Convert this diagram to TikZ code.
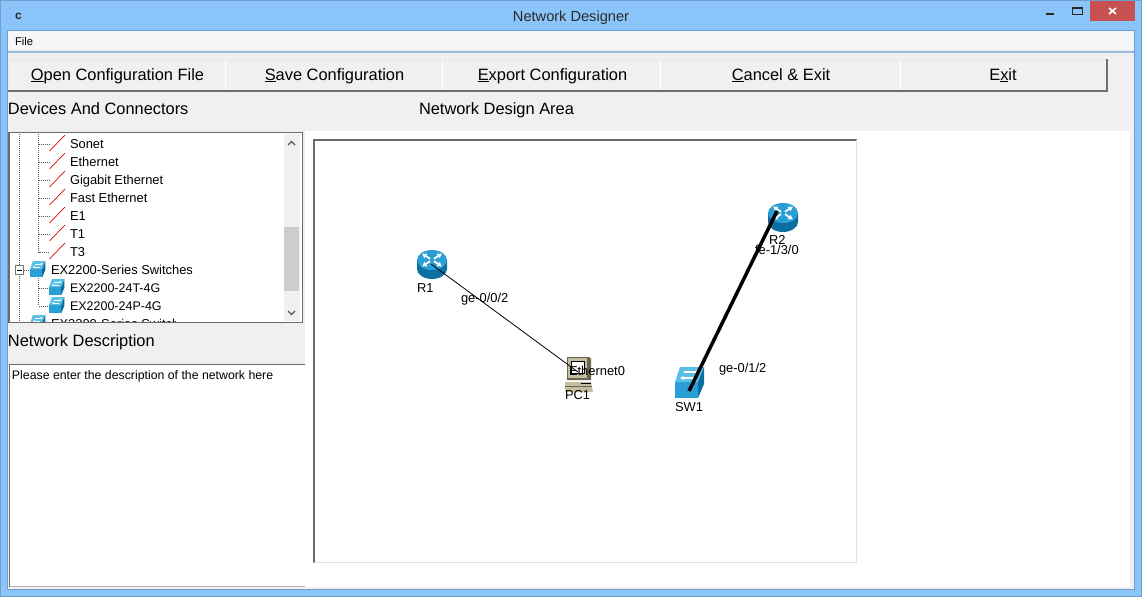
\documentclass[tikz,border=0pt]{standalone}
\usepackage{fontspec}
\usetikzlibrary{arrows.meta}
\setmainfont{Liberation Sans}
\definecolor{frameblue}{HTML}{8AC4F8}
\definecolor{frameedge}{HTML}{6F9FCF}
\definecolor{panel}{HTML}{F0F0F0}
\definecolor{menubg}{HTML}{F5F6F7}
\definecolor{btnshade}{HTML}{6E6E6E}
\definecolor{closered}{HTML}{C75050}
\definecolor{iconblue}{HTML}{2A9FD6}
\definecolor{icondark}{HTML}{0C6F9F}
\definecolor{iconlight}{HTML}{58BFE6}
\definecolor{sbar}{HTML}{CDCDCD}
\definecolor{titletext}{HTML}{2A2A2A}
\definecolor{pcbody}{HTML}{C4BD9F}
\definecolor{pcdark}{HTML}{6B6650}
\tikzset{
  txt/.style={inner sep=0pt,outer sep=0pt,anchor=base west,font=\fontsize{#1}{#1}\selectfont,text=black},
  btnlabel/.style={inner sep=0pt,outer sep=0pt,anchor=base,font=\fontsize{16.4}{16.4}\selectfont,text=black},
  treelabel/.style={txt=12.9},
  treesmall/.style={txt=12.5},
  dia/.style={txt=12.9},
  treedot/.style={draw=black!65,line width=.8pt,dash pattern=on 1pt off 1pt},
  redlink/.style={draw=red!90!black,line width=.7pt},
  lnk/.style={draw=black,line width=.8pt},
  thicklnk/.style={draw=black,line width=3.5pt},
  arr/.style={white,line width=1.8pt,-{Latex[length=4.5pt,width=6pt]}}
}
\newcommand{\routericon}[2]{%
  \begin{scope}[shift={(#1,#2)}]
    \fill[icondark] (-15,0) -- (-15,9) arc[start angle=180,end angle=0,x radius=15,y radius=10] -- (15,0) -- cycle;
    \fill[iconblue] (0,0) ellipse[x radius=15,y radius=10];
    \draw[arr] (-2,-1.2) -- (-10,-6.5);
    \draw[arr] (2,-1.2) -- (10,-6.5);
    \draw[arr] (-2,1.2) -- (-10,6.5);
    \draw[arr] (2,1.2) -- (10,6.5);
  \end{scope}}
\newcommand{\switchicon}[3]{%
  \begin{scope}[shift={(#1,#2)},scale=#3]
    \fill[iconblue] (-15,0) -- (8,0) -- (8,16) -- (-15,16) -- cycle;
    \fill[iconlight] (-15,0) -- (-10,-15) -- (14,-15) -- (8,0) -- cycle;
    \fill[icondark] (8,0) -- (14,-15) -- (14,2) -- (8,16) -- cycle;
    \draw[white,line width=#3*1.1pt,-{Latex[length=#3*3.5pt,width=#3*4.5pt]}] (4,-4) -- (-10,-4);
    \draw[white,line width=#3*1.1pt,-{Latex[length=#3*3.5pt,width=#3*4.5pt]}] (-6,-10) -- (9,-10);
  \end{scope}}
\begin{document}
\begin{tikzpicture}[x=1pt,y=-1pt]
\useasboundingbox (0,0) rectangle (1142,597);
% window frame
\fill[frameblue] (0,0) rectangle (1142,597);
\draw[frameedge,line width=1pt] (.5,.5) rectangle (1141.5,596.5);
\fill[panel] (8,31) rectangle (1134,589);
\draw[frameedge,line width=1pt] (7.5,30.5) rectangle (1134.5,589.5);
% title bar
\node[txt=12,font=\fontsize{12}{12}\selectfont\bfseries,text=titletext] (ctitle) at (15,19) {c};
\node[inner sep=0pt,anchor=base,font=\fontsize{14.6}{14.6}\selectfont,text=titletext] (wintitle) at (571,21) {Network Designer};
\fill[closered] (1090,1) rectangle (1135,21);
\draw[white,line width=1.6pt] (1109,8) -- (1116,14) (1116,8) -- (1109,14);
\draw[black!85,line width=2pt] (1046,14) -- (1054,14);
\draw[black!85,line width=1pt] (1072.5,7.5) rectangle (1082.5,14.5);
\draw[black!85,line width=2pt] (1072,8) -- (1083,8);
% menu
\fill[menubg] (8,31) rectangle (1134,50);
\fill[black!8] (8,50) rectangle (1134,51);
\fill[frameedge!70] (8,51) rectangle (1134,53);
\node[txt=11.2] (filemenu) at (15,45) {File};
% buttons
\fill[white!92!black] (8,59) rectangle (1108,92);
\fill[panel] (9,61) rectangle (1106,90);
\fill[btnshade] (8,90) rectangle (1108,92);
\fill[btnshade] (1106,59) rectangle (1108,92);
\foreach \x in {225.5,442.5,660.5,900.5} \draw[white,line width=1pt] (\x,60) -- (\x,90);
\node[btnlabel] (b1) at (117.5,80) {\underline{O}pen Configuration File};
\node[btnlabel] (b2) at (334.5,80) {\underline{S}ave Configuration};
\node[btnlabel] (b3) at (552.5,80) {\underline{E}xport Configuration};
\node[btnlabel] (b4) at (781,80) {\underline{C}ancel \& Exit};
\node[btnlabel] (b5) at (1003,80) {E\underline{x}it};
% headings
\node[txt=16.4] (h1) at (8,114) {Devices And Connectors};
\node[txt=16.4] (h2) at (419,114) {Network Design Area};
\node[txt=16.4] (h3) at (8,346) {Network Description};
% design area
\fill[white] (305,131) rectangle (1130,587);
\fill[white] (314,140) rectangle (857,563);
\draw[black!58,line width=1.6pt] (314,563) -- (314,140) -- (857,140);
\draw[black!12,line width=1pt] (314,562.5) -- (856.5,562.5) -- (856.5,140);
% tree box
\fill[white] (9,132) rectangle (303,323);
\begin{scope}
\clip (11,134) rectangle (301,321);
\draw[treedot] (19.5,134) -- (19.5,321);
\draw[treedot] (38.5,134) -- (38.5,252.5) -- (49,252.5);
\foreach \y in {144,162,180,198,216,234} \draw[treedot] (38.5,\y) -- (49,\y);
\foreach \y in {151,169,187,205,223,241,259} \draw[redlink] (49.5,\y) -- (65,\y-16);
\draw[treedot] (24,270) -- (30,270);
\draw[treedot] (38.5,278) -- (38.5,306) -- (49,306) (38.5,288) -- (49,288);
\node[treelabel] (t1) at (70,148) {Sonet};
\node[treelabel] (t2) at (70,166) {Ethernet};
\node[treelabel] (t3) at (70,184) {Gigabit Ethernet};
\node[treelabel] (t4) at (70,202) {Fast Ethernet};
\node[treelabel] (t5) at (70,220) {E1};
\node[treelabel] (t6) at (70,238) {T1};
\node[treelabel] (t7) at (70,256) {T3};
\node[treelabel] (t8) at (51,274) {EX2200-Series Switches};
\node[treesmall] (t9) at (70,292) {EX2200-24T-4G};
\node[treesmall] (t10) at (70,310) {EX2200-24P-4G};
\begin{scope}
\clip (11,300) rectangle (175,321);
\node[treelabel] (t11) at (51,328) {EX3200-Series Switches};
\end{scope}
\switchicon{38}{269}{.52}
\switchicon{57}{287}{.52}
\switchicon{57}{305}{.52}
\switchicon{38}{323}{.52}
\fill[white] (15,265) rectangle (24,275);
\draw[black!55,line width=.7pt] (15.5,265.5) rectangle (23.5,274.5);
\draw[black,line width=.7pt] (17,270) -- (22,270);
\end{scope}
\fill[panel] (284,134) rectangle (300,321);
\fill[sbar] (284,227) rectangle (299,291);
\draw[black!65,line width=1.1pt] (288,145) -- (291.5,141.5) -- (295,145);
\draw[black!65,line width=1.1pt] (288,311) -- (291.5,314.5) -- (295,311);
\draw[black!58,line width=1.4pt] (9,132.5) rectangle (302.5,322.5);
% description box
\fill[white] (9,364) rectangle (305,587);
\draw[black!58,line width=1.4pt] (9.5,587) -- (9.5,364.5) -- (305,364.5);
\draw[black!30,line width=1pt] (9.5,586.5) -- (305,586.5);
\node[txt=12.3] (desc) at (12,379) {Please enter the description of the network here};
% devices
\routericon{432}{260}
\routericon{783}{213}
\begin{scope}[shift={(579,375)}]
  \fill[pcdark] (-12,-18) -- (10,-18) -- (12,-16) -- (12,5) -- (-12,5) -- cycle;
  \fill[pcbody] (-11,-17) rectangle (8,3);
  \fill[white] (-8,-14) rectangle (5,-2);
  \draw[black,line width=.8pt] (-8,-14) rectangle (5,-2);
  \fill[pcbody] (-14,7) -- (12,7) -- (14,17) -- (-14,17) -- cycle;
  \draw[pcdark,line width=1pt] (-14,11) -- (13,11);
  \draw[black,line width=.9pt] (2,8) -- (12,8);
\end{scope}
\switchicon{690}{382}{1}
\coordinate (R1) at (431,264);
\coordinate (PC1) at (578,372);
\coordinate (R2) at (777,211);
\coordinate (SW1) at (689,391);
\draw[lnk] (R1) -- (PC1);
\draw[thicklnk] (SW1) -- (R2);
\node[dia] (lr1) at (417,292) {R1};
\node[dia] (lr2) at (769,244) {R2};
\node[dia] (lpc) at (565,399) {PC1};
\node[dia] (lsw) at (675,411) {SW1};
\node[dia] (p1) at (461,302) {ge-0/0/2};
\node[dia] (p2) at (569,375) {Ethernet0};
\node[dia] (p3) at (755,254) {fe-1/3/0};
\node[dia] (p4) at (719,372) {ge-0/1/2};
\end{tikzpicture}
\end{document}
